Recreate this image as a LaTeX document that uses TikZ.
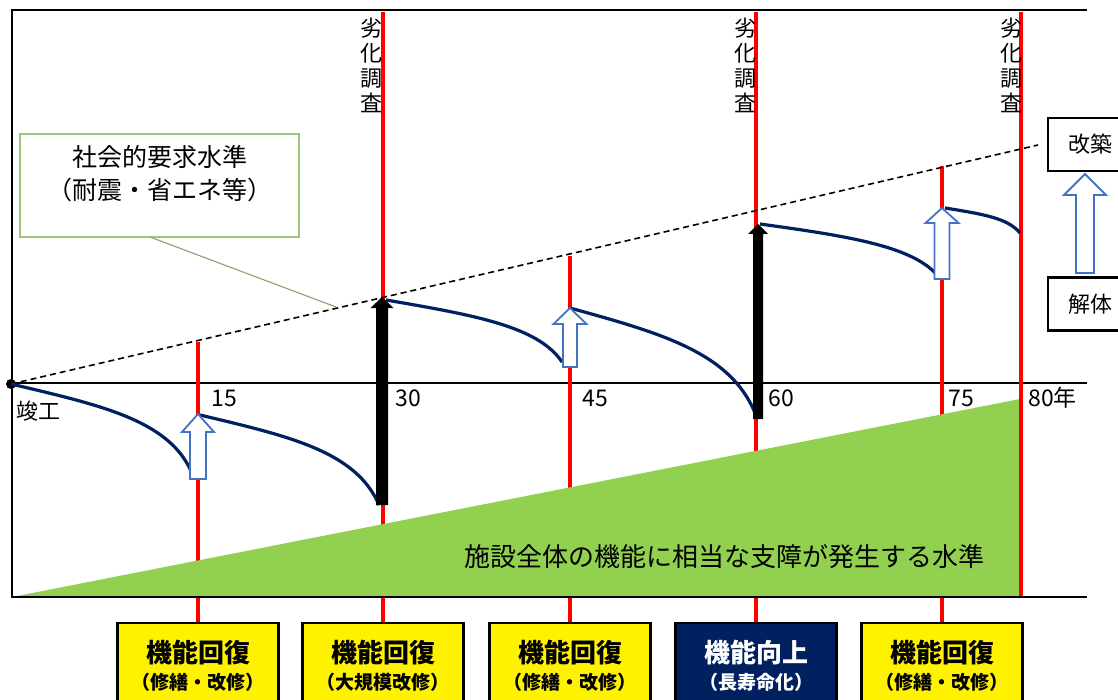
\documentclass[tikz,border=0pt]{standalone}
\usepackage{fontspec}
\setmainfont{Noto Sans CJK JP}
\definecolor{navyc}{HTML}{002060}
\definecolor{redc}{HTML}{FF0000}
\definecolor{greenfill}{HTML}{92D050}
\definecolor{arrowblue}{HTML}{4472C4}
\definecolor{calloutgreen}{HTML}{9CC57E}
\newcommand{\hollowup}[6]{% x, tip y, bottom y, head half width, shaft half width, head length
  \draw[hollow] (#1-#5,#3) -- (#1-#5,#2+#6) -- (#1-#4,#2+#6) -- (#1,#2) -- (#1+#4,#2+#6) -- (#1+#5,#2+#6) -- (#1+#5,#3) -- cycle;}
\newcommand{\solidup}[6]{%
  \fill[black] (#1-#5,#3) -- (#1-#5,#2+#6) -- (#1-#4,#2+#6) -- (#1,#2) -- (#1+#4,#2+#6) -- (#1+#5,#2+#6) -- (#1+#5,#3) -- cycle;}
\begin{document}
\begin{tikzpicture}[x=0.5pt,y=-0.5pt,
  frameline/.style={line width=1.1pt, draw=black},
  redline/.style={line width=1.6pt, draw=redc},
  curveline/.style={line width=1.6pt, draw=navyc},
  dashline/.style={line width=0.8pt, draw=black, dash pattern=on 3pt off 2pt},
  hollow/.style={line width=0.9pt, draw=arrowblue, fill=white, line join=miter},
  lbl/.style={font=\fontsize{11}{12.5}\selectfont, inner sep=0pt},
  vlbl/.style={lbl, align=center},
  numlbl/.style={font=\fontsize{11.5}{13}\selectfont, inner sep=0pt, anchor=west},
  ybox/.style={draw=black, line width=1.3pt, fill=yellow, minimum width=80.5pt, minimum height=43pt,
    align=center, inner sep=0pt, font=\bfseries\fontsize{13}{13.5}\selectfont},
  nbox/.style={ybox, fill=navyc, text=white},
  sidebox/.style={draw=black, line width=1.1pt, fill=white, minimum width=42pt, minimum height=26.5pt,
    inner sep=0pt, font=\fontsize{11}{12}\selectfont},
  calloutbox/.style={draw=calloutgreen, line width=0.75pt, fill=white, minimum width=139.5pt, minimum height=51.5pt, inner sep=0pt},
  callouttext/.style={align=center, inner sep=0pt, font=\fontsize{12.5}{16.5}\selectfont},
  pointer/.style={draw=calloutgreen!85!black, line width=0.55pt},
]
\clip (0,0) rectangle (1118,700);
\fill[white] (0,0) rectangle (1118,700);

% frame and axis
\draw[frameline] (12,383) -- (1087,383);

% callout
\node[calloutbox] (callout) at (159.5,185.5) {};
\node[callouttext] (callouttxt) at (160,173.5) {社会的要求水準\\（耐震・省エネ等）};
\coordinate (cA) at (150,237);
\coordinate (cB) at (336,307);
\draw[pointer] (cA) -- (cB);

% bottom boxes
\node[ybox] (b1) at (198,666) {機能回復\\{\fontsize{9.5}{13.5}\selectfont （修繕・改修）}};
\node[ybox] (b2) at (383,666) {機能回復\\{\fontsize{9.5}{13.5}\selectfont （大規模改修）}};
\node[ybox] (b3) at (570,666) {機能回復\\{\fontsize{9.5}{13.5}\selectfont （修繕・改修）}};
\node[nbox] (b4) at (756,666) {機能向上\\{\fontsize{9.5}{13.5}\selectfont （長寿命化）}};
\node[ybox] (b5) at (942,666) {機能回復\\{\fontsize{9.5}{13.5}\selectfont （修繕・改修）}};

% red lines
\coordinate (t15) at (198,342);
\coordinate (t30) at (383,12);
\coordinate (t45) at (570,256);
\coordinate (t60) at (756,12);
\coordinate (t75) at (942,166);
\coordinate (t80) at (1021,12);
\coordinate (e80) at (1021,597);
\draw[redline] (t15) -- (b1.north);
\draw[redline] (t30) -- (b2.north);
\draw[redline] (t45) -- (b3.north);
\draw[redline] (t60) -- (b4.north);
\draw[redline] (t75) -- (b5.north);

% green level (covers the red lines)
\fill[greenfill] (12,597) -- (1020,399) -- (1020,597) -- cycle;
\node[font=\fontsize{13}{14}\selectfont, inner sep=0pt] (levtext) at (724.5,557) {施設全体の機能に相当な支障が発生する水準};
\draw[redline] (t80) -- (e80);
\draw[frameline] (1087,10) -- (12,10) -- (12,597) -- (1087,597);

% origin and social requirement line
\node[circle, fill=black, minimum size=5pt, inner sep=0pt] (origin) at (11,384) {};
\coordinate (dend) at (1038,145);
\draw[dashline] (origin.center) -- (dend);

% deterioration curves
\draw[curveline] (origin.center) .. controls (100,405) and (168,420) .. (191,471);
\draw[curveline] (200,415) .. controls (288,436) and (356,451) .. (379,505);
\draw[curveline] (386,300) .. controls (473,315) and (538,326) .. (562,362);
\draw[curveline] (570,308) .. controls (660,333) and (730,352) .. (755,413);
\draw[curveline] (760,224) .. controls (847,236) and (912,246) .. (937,275);
\draw[curveline] (945,208) .. controls (982,214) and (1008,218) .. (1020,233);

% arrows
\hollowup{198}{414}{479}{16}{8}{18}
\hollowup{570}{308}{367}{16.5}{7}{16}
\hollowup{942}{208}{279}{16.5}{7.5}{15}
\solidup{382}{297}{505}{11.5}{6}{11}
\solidup{758}{224}{419}{10}{5}{10}

% right side
\node[sidebox] (kaichiku) at (1090,144.5) {改築};
\node[sidebox] (kaitai) at (1090,304) {解体};
\hollowup{1085}{174}{273}{21}{9}{21}

% labels
\node[vlbl] (l30) at (371,65) {劣\\化\\調\\査};
\node[vlbl] (l60) at (745,65) {劣\\化\\調\\査};
\node[vlbl] (l80) at (1011,65) {劣\\化\\調\\査};
\node[lbl, anchor=west] (kanko) at (16,411) {竣工};
\node[numlbl] (n15) at (211,398) {15};
\node[numlbl] (n30) at (395,398) {30};
\node[numlbl] (n45) at (582,398) {45};
\node[numlbl] (n60) at (768,398) {60};
\node[numlbl] (n75) at (948,398) {75};
\node[numlbl] (n80) at (1028,398) {80年};
\end{tikzpicture}
\end{document}
